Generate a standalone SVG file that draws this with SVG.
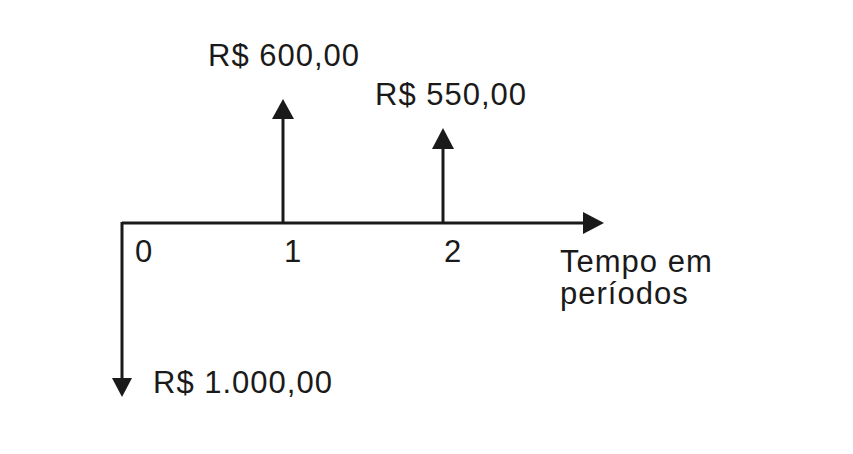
<svg xmlns="http://www.w3.org/2000/svg" width="853" height="454" viewBox="0 0 853 454">
<style>
text{font-family:"Liberation Sans",Arial,sans-serif;font-size:31px;letter-spacing:1px;fill:#1a1a1a}
.ln{stroke:#1a1a1a;stroke-width:3;fill:none}
.hd{fill:#1a1a1a}
</style>
<rect width="853" height="454" fill="#fff"/>
<g id="connectors">
<path class="ln" d="M122,223 H585"/>
<polygon class="hd" points="583,212 604,223 583,234"/>
<path class="ln" d="M122,222 V380"/>
<polygon class="hd" points="112,378 122,397 132,378"/>
<path class="ln" d="M283,224 V116"/>
<polygon class="hd" points="272,119 283,99 294,119"/>
<path class="ln" d="M443,224 V146"/>
<polygon class="hd" points="432,149 443,128 454,149"/>
</g>
<g id="label-600"><text x="208" y="66">R$ 600,00</text></g>
<g id="label-550"><text x="375" y="105">R$ 550,00</text></g>
<g id="label-1000"><text x="153" y="393">R$ 1.000,00</text></g>
<g id="tick-0"><text x="135" y="262">0</text></g>
<g id="tick-1"><text x="284" y="262">1</text></g>
<g id="tick-2"><text x="444" y="262">2</text></g>
<g id="axis-label"><text x="560" y="272">Tempo em<tspan x="560" y="304">períodos</tspan></text></g>
</svg>
